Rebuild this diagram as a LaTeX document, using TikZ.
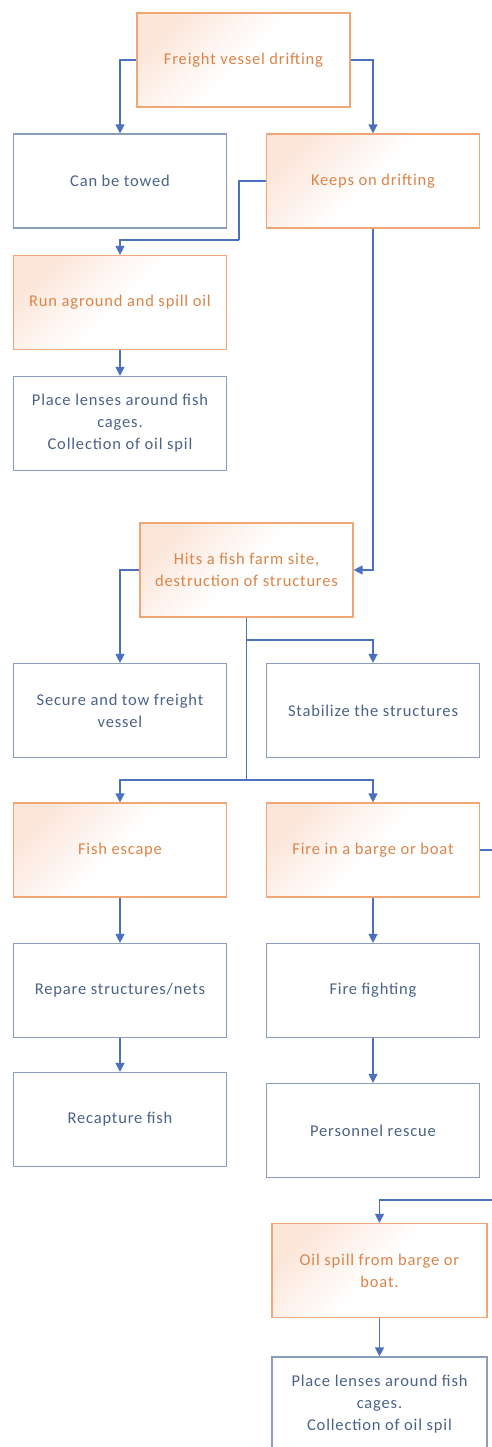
\documentclass[tikz,border=0pt]{standalone}
\usepackage{fontspec}
\setmainfont{Carlito}[LetterSpace=5]
\usetikzlibrary{arrows.meta}
\definecolor{obord}{HTML}{F0A676}
\definecolor{otext}{HTML}{DC8448}
\definecolor{ofill}{HTML}{FCE6DA}
\definecolor{bbord}{HTML}{8A9DBA}
\definecolor{btext}{HTML}{4A6388}
\definecolor{arr}{HTML}{4A70BE}
\tikzset{
  obox/.style={draw=obord, line width=1.2pt, minimum width=213pt, minimum height=94pt,
    shading=axis, top color=ofill, bottom color=white, middle color=white, shading angle=45,
    text=otext, align=center, font=\fontsize{16.5}{22}\selectfont, inner sep=0pt},
  bbox/.style={draw=bbord, line width=1.2pt, minimum width=213pt, minimum height=94pt,
    fill=white, text=btext, align=center, font=\fontsize{16.5}{22}\selectfont, inner sep=0pt},
  con/.style={draw=arr, line width=1.3pt, -{Triangle[width=9pt,length=9pt]}},
  lin/.style={draw=arr, line width=1.3pt}
}
\begin{document}
\begin{tikzpicture}[x=1pt,y=-1pt]
\useasboundingbox (0,0) rectangle (492,1447);
\clip (0,0) rectangle (492,1447);
\fill[white] (0,0) rectangle (492,1447);
\node[obox] (A) at (243.5,60) {Freight vessel drifting};
\node[bbox] (B) at (120,181) {Can be towed};
\node[obox] (C) at (373,181) {Keeps on drifting};
\node[obox] (D) at (120,302.5) {Run aground and spill oil};
\node[bbox] (E) at (120,423.5) {Place lenses around fish\\cages.\\Collection of oil spil};
\node[obox] (F) at (246.5,570) {Hits a fish farm site,\\destruction of structures};
\node[bbox] (G) at (120,710.5) {Secure and tow freight\\vessel};
\node[bbox] (H) at (373,710.5) {Stabilize the structures};
\node[obox] (I) at (120,850) {Fish escape};
\node[obox] (J) at (373,850) {Fire in a barge or boat};
\node[bbox] (K) at (120,990.5) {Repare structures/nets};
\node[bbox] (L) at (373,990.5) {Fire fighting};
\node[bbox] (M) at (120,1119.5) {Recapture fish};
\node[bbox] (N) at (373,1130.5) {Personnel rescue};
\node[obox, minimum width=215pt] (O) at (379.5,1270.5) {Oil spill from barge or\\boat.};
\node[bbox, minimum width=215pt] (P) at (379.5,1404) {Place lenses around fish\\cages.\\Collection of oil spil};
\coordinate (c1) at (239,240);
\coordinate (f1) at (246.5,640);
\coordinate (f2) at (246.5,780);
\coordinate (j1) at (497,1200);
\draw[con] (A.west) -| (B.north);
\draw[con] (A.east) -| (C.north);
\draw[lin] (C.west) -| (c1);
\draw[con] (c1) -| (D.north);
\draw[con] (D.south) -- (E.north);
\draw[con] (C.south) |- (F.east);
\draw[con] (F.west) -| (G.north);
\draw[lin] (F.south) -- (f2);
\draw[con] (f1) -| (H.north);
\draw[con] (f2) -| (I.north);
\draw[con] (f2) -| (J.north);
\draw[con] (I.south) -- (K.north);
\draw[con] (K.south) -- (M.north);
\draw[con] (J.south) -- (L.north);
\draw[con] (L.south) -- (N.north);
\draw[lin] (J.east) -| (j1);
\draw[con] (j1) -| (O.north);
\draw[con] (O.south) -- (P.north);
\end{tikzpicture}
\end{document}
